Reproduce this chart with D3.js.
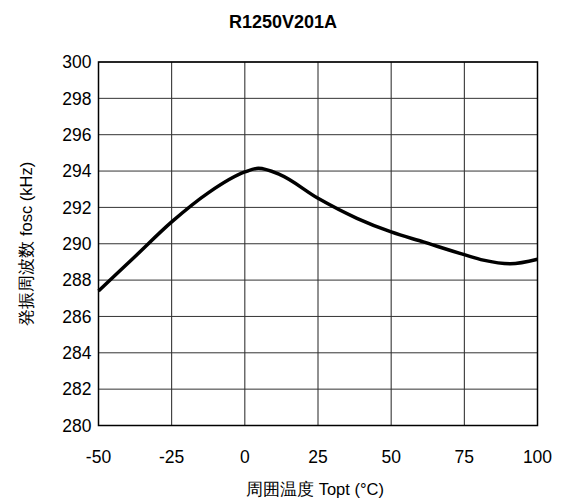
<!DOCTYPE html>
<html>
<head>
<meta charset="utf-8">
<script src="https://cdn.jsdelivr.net/npm/d3@7"></script>
<style>
  body { margin: 0; background: #fff; }
  text { font-family: "Liberation Sans", Arial, sans-serif; fill: #000; }
</style>
</head>
<body>
<svg width="565" height="499"></svg>
<script>
// temperatura (°C) e frequenza (kHz)
var temps = [-50, -37.5, -25, -12.5, 0, 4.6, 12, 25, 38.3, 50, 61, 75, 81.5, 90.7, 100];
var freqs = [287.4, 289.3, 291.2, 292.8, 293.95, 294.15, 293.8, 292.5, 291.4, 290.65, 290.1, 289.4, 289.1, 288.9, 289.15];
var xTicks = [-50, -25, 0, 25, 50, 75, 100];
var yTicks = [280, 282, 284, 286, 288, 290, 292, 294, 296, 298, 300];

var svg = d3.select("svg");

// margini area grafico
var plotLeft = 98.5, plotRight = 537.5, plotTop = 62, plotBottom = 425.5;

var x = d3.scaleLinear().domain([-50, 100]).range([plotLeft, plotRight]);
var y = d3.scaleLinear().domain([280, 300]).range([plotBottom, plotTop]);

// griglia verticale
svg.append("g").selectAll("line").data(xTicks).enter().append("line")
   .attr("x1", function(d){return x(d)}).attr("x2", function(d){return x(d)})
   .attr("y1", plotTop).attr("y2", plotBottom)
   .attr("stroke", "#222").attr("stroke-width", 1);

// griglia orizzontale
svg.append("g").selectAll("line").data(yTicks).enter().append("line")
   .attr("x1", plotLeft).attr("x2", plotRight)
   .attr("y1", function(d){return y(d)}).attr("y2", function(d){return y(d)})
   .attr("stroke", "#333").attr("stroke-width", 1);

svg.append("rect")
   .attr("x", plotLeft).attr("y", plotTop)
   .attr("width", plotRight - plotLeft).attr("height", plotBottom - plotTop)
   .attr("fill", "none").attr("stroke", "#000").attr("stroke-width", 1.5);

// etichette assi
svg.append("g").selectAll("text").data(yTicks).enter().append("text")
   .attr("x", plotLeft - 7).attr("y", function(d){return y(d)})
   .attr("dy", "0.36em").attr("text-anchor", "end")
   .style("font-size", "17.5px")
   .text(function(d){return d});

svg.append("g").selectAll("text").data(xTicks).enter().append("text")
   .attr("x", function(d){return x(d)}).attr("y", 463)
   .attr("text-anchor", "middle")
   .style("font-size", "17.5px")
   .text(function(d){return d});

// curva
var line = d3.line()
   .x(function(d){return x(d[0])})
   .y(function(d){return y(d[1])})
   .curve(d3.curveMonotoneX);

svg.append("path")
   .datum(d3.zip(temps, freqs))
   .attr("d", line)
   .attr("fill", "none")
   .attr("stroke", "#000")
   .attr("stroke-width", 3.5)
   .attr("stroke-linejoin", "round");

// titoli
svg.append("text")
   .attr("x", 283).attr("y", 28)
   .attr("text-anchor", "middle")
   .style("font-size", "18px").style("font-weight", "bold")
   .text("R1250V201A");

svg.append("text")
   .attr("x", 315).attr("y", 495)
   .attr("text-anchor", "middle")
   .style("font-size", "16.5px")
   .text("周囲温度 Topt (°C)");

svg.append("text")
   .attr("transform", "translate(32," + ((plotTop + plotBottom) / 2) + ") rotate(-90)")
   .attr("text-anchor", "middle")
   .style("font-size", "16.5px")
   .text("発振周波数 fosc (kHz)");
</script>
</body>
</html>
